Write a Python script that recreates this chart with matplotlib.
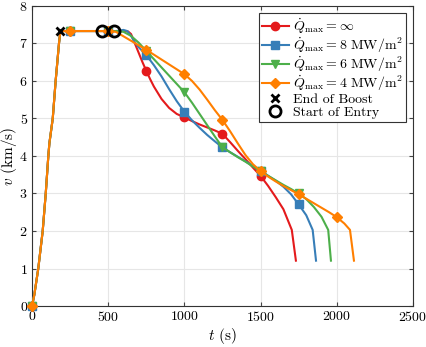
import matplotlib
matplotlib.use("Agg")
import matplotlib.pyplot as plt
import numpy as np

plt.rcParams['font.family'] = 'serif'
plt.rcParams['font.serif'] = ['cmr10']
plt.rcParams['mathtext.fontset'] = 'cm'
plt.rcParams['axes.formatter.use_mathtext'] = True

# ascent + coast, shared by every case
t_ascent = [0, 15, 41, 70, 90, 107, 114, 136, 155, 177, 186, 250, 500]
v_ascent = [0, 0.3, 1.0, 2.0, 3.0, 4.0, 4.34, 5.0, 6.0, 7.0, 7.33, 7.33, 7.33]

# entry phase, one per heat flux limit
t_red = [550, 600, 630, 650, 675, 700, 725, 750, 775, 800, 850, 900, 950, 1000, 1050, 1100,
         1150, 1200, 1250, 1300, 1350, 1400, 1450, 1500, 1550, 1600, 1650, 1705, 1732]
v_red = [7.33, 7.33, 7.32, 7.25, 7.0, 6.75, 6.5, 6.27, 6.05, 5.85, 5.52, 5.28, 5.12, 5.03, 4.93, 4.84,
         4.76, 4.68, 4.59, 4.37, 4.14, 3.92, 3.69, 3.47, 3.2, 2.9, 2.58, 2.03, 1.21]

t_blue = [550, 600, 625, 650, 675, 700, 750, 800, 850, 900, 950, 1000, 1050, 1100, 1150,
          1200, 1250, 1300, 1350, 1400, 1450, 1500, 1550, 1600, 1650, 1700, 1750, 1800, 1842, 1864]
v_blue = [7.33, 7.36, 7.33, 7.2, 7.03, 6.9, 6.69, 6.42, 6.12, 5.78, 5.46, 5.18, 4.95, 4.75, 4.56,
          4.39, 4.23, 4.1, 3.98, 3.86, 3.73, 3.61, 3.47, 3.34, 3.18, 2.98, 2.71, 2.42, 2.03, 1.21]

t_green = [550, 600, 650, 700, 750, 800, 850, 900, 950, 1000, 1050, 1100, 1150, 1200, 1250,
           1300, 1350, 1400, 1450, 1500, 1550, 1600, 1650, 1700, 1750, 1800, 1850, 1900, 1944, 1962]
v_green = [7.33, 7.31, 7.2, 7.02, 6.8, 6.58, 6.36, 6.14, 5.92, 5.7, 5.42, 5.12, 4.82, 4.52, 4.23,
           4.1, 3.97, 3.85, 3.72, 3.6, 3.47, 3.35, 3.23, 3.12, 3.0, 2.85, 2.64, 2.38, 2.03, 1.21]

t_orange = [550, 600, 650, 700, 750, 800, 850, 900, 950, 1000, 1050, 1100, 1150, 1200, 1250,
            1300, 1350, 1400, 1450, 1500, 1550, 1600, 1650, 1700, 1750, 1800, 1850, 1900, 1950,
            2000, 2050, 2087, 2113]
v_orange = [7.31, 7.19, 7.07, 6.95, 6.83, 6.7, 6.57, 6.44, 6.31, 6.18, 6.0, 5.77, 5.5, 5.22, 4.96,
            4.66, 4.34, 4.03, 3.78, 3.6, 3.45, 3.32, 3.2, 3.09, 2.98, 2.86, 2.74, 2.62, 2.5,
            2.37, 2.2, 2.03, 1.21]

labels = [r'$\dot{Q}_{\max} = \infty$',
          r'$\dot{Q}_{\max} = 8\ \mathrm{MW/m^2}$',
          r'$\dot{Q}_{\max} = 6\ \mathrm{MW/m^2}$',
          r'$\dot{Q}_{\max} = 4\ \mathrm{MW/m^2}$']
colors = ['#E41A1C', '#377EB8', '#4DAF4A', '#FF7F00']
markers = ['o', 's', 'v', 'D']

t_boost_end = [186]
v_boost_end = [7.33]
t_entry_start = [457, 538]
v_entry_start = [7.33, 7.33]

fig = plt.figure(figsize=(4.27, 3.47), dpi=100)
ax = fig.add_axes([0.075, 0.118, 0.892, 0.865])

series = [(t_red, v_red), (t_blue, v_blue), (t_green, v_green), (t_orange, v_orange)]
for (te, ve), lab, c, m in zip(series, labels, colors, markers):
    t = np.array(t_ascent + te)
    v = np.array(v_ascent + ve)
    idx = [i for i in range(len(t)) if t[i] % 250 == 0]
    ms = 6 if m != 'D' else 5.5
    ax.plot(t, v, color=c, lw=1.5, marker=m, ms=ms, markevery=idx,
            label=lab, clip_on=False, zorder=3)

ax.plot(t_boost_end, v_boost_end, 'x', color='k', ms=6, mew=2, label='End of Boost', zorder=5)
ax.plot(t_entry_start, v_entry_start, 'o', mfc='none', mec='k', ms=8, mew=2,
        label='Start of Entry', zorder=5)

ax.set_xlim(0, 2500)
ax.set_ylim(0, 8)
ax.set_xticks(np.arange(0, 2501, 500))
ax.set_yticks(np.arange(0, 9, 1))
ax.tick_params(direction='in', top=True, right=True, labelsize=10, length=3,
               color='#444444', pad=3)
ax.grid(True, color='#e6e6e6', lw=0.8)
ax.set_axisbelow(True)
for s in ax.spines.values():
    s.set_color('#333333')
    s.set_linewidth(0.8)
ax.set_xlabel(r'$t$ (s)', fontsize=11, labelpad=1)
ax.set_ylabel(r'$v$ (km/s)', fontsize=11, labelpad=0)

leg = ax.legend(loc='upper right', fontsize=10, fancybox=False, framealpha=1,
                edgecolor='#333333', handlelength=1.9, handletextpad=0.3,
                labelspacing=0.0, borderpad=0.25, borderaxespad=0.5)
leg.get_frame().set_linewidth(0.8)

fig.savefig('out.png', dpi=100)
